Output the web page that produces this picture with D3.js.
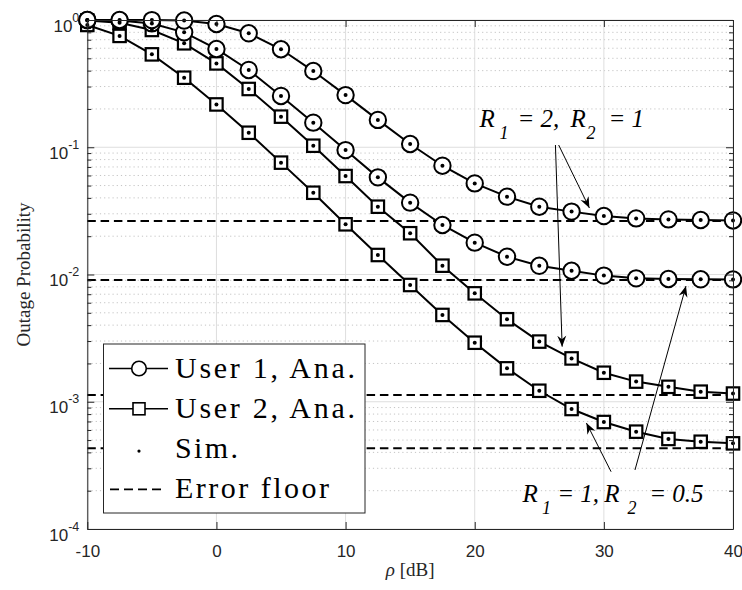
<!DOCTYPE html>
<html lang="en">
<head>
<meta charset="UTF-8">
<script src="https://d3js.org/d3.v7.min.js"></script>
<title>Outage probability</title>
<style>
  body { margin: 0; background: #fff; }
  svg { display: block; }
  .sans { font-family: "Liberation Sans", Arial, Helvetica, sans-serif; }
  .serif { font-family: "Liberation Serif", "Times New Roman", Times, "DejaVu Serif", serif; }
</style>
</head>
<body>
<div id="chart"></div>
<script>
// rho in dB
const snr = [-10, -7.5, -5, -2.5, 0, 2.5, 5, 7.5, 10, 12.5, 15, 17.5, 20, 22.5, 25, 27.5, 30, 32.5, 35, 37.5, 40];

// User 1, R1 = 2, R2 = 1
const user1High = [1.0, 1.0, 0.998, 0.99, 0.93, 0.786, 0.589, 0.397, 0.257, 0.164, 0.106, 0.0716, 0.052, 0.0409, 0.0341, 0.0312, 0.0288, 0.0276, 0.0271, 0.0268, 0.0266];
// User 1, R1 = 1, R2 = 0.5
const user1Low = [1.0, 0.99, 0.94, 0.80, 0.592, 0.405, 0.253, 0.156, 0.095, 0.058, 0.0367, 0.0245, 0.0178, 0.0138, 0.0117, 0.0107, 0.0098, 0.00933, 0.00922, 0.00917, 0.00915];
// User 2, R1 = 2, R2 = 1
const user2High = [0.99, 0.95, 0.835, 0.656, 0.456, 0.287, 0.174, 0.1028, 0.0594, 0.0341, 0.0211, 0.01173, 0.00711, 0.00445, 0.00297, 0.00219, 0.00169, 0.00144, 0.00131, 0.0012, 0.00116];
// User 2, R1 = 1, R2 = 0.5
const user2Low = [0.914, 0.75, 0.537, 0.352, 0.217, 0.130, 0.0757, 0.0439, 0.0248, 0.01423, 0.00827, 0.00481, 0.00291, 0.00183, 0.00122, 0.000877, 0.000693, 0.000582, 0.00051, 0.000485, 0.000471];

// simulation points sit on the analytical curves
const simU1High = user1High;
const simU1Low = user1Low;
const simU2High = user2High;
const simU2Low = user2Low;

// error floors (horizontal dashed lines)
const floors = [0.0263, 0.00905, 0.00113, 0.000432];

const xTicks = [-10, 0, 10, 20, 30, 40];
const yExponents = [-4, -3, -2, -1, 0];
const legendLabels = ["User 1, Ana.", "User 2, Ana.", "Sim.", "Error floor"];

const width = 742, height = 590;
const margin = { top: 20, right: 9, bottom: 61, left: 87.3 };
const axisColor = "#262626";

const svg = d3.select("#chart").append("svg")
  .attr("width", width)
  .attr("height", height);

const x = d3.scaleLinear().domain([-10, 40]).range([margin.left, width - margin.right]);
const y = d3.scaleLog().domain([1e-4, 1]).range([height - margin.bottom, margin.top]);

const yMajor = yExponents.map(e => Math.pow(10, e));
const yMinor = [];
yExponents.slice(0, -1).forEach(e => {
  for (let m = 2; m <= 9; m++) yMinor.push(m * Math.pow(10, e));
});

// arrow head
svg.append("defs").append("marker")
  .attr("id", "head")
  .attr("viewBox", "-11 -6 12 12")
  .attr("refX", 0).attr("refY", 0)
  .attr("markerWidth", 12).attr("markerHeight", 12)
  .attr("markerUnits", "userSpaceOnUse")
  .attr("orient", "auto")
  .append("path")
  .attr("d", "M0,0 L-11,-4.5 L-7.5,0 L-11,4.5 Z")
  .attr("fill", "#000");

// grid
const grid = svg.append("g");
grid.selectAll(".minor").data(yMinor).enter().append("line")
  .attr("x1", x(-10)).attr("x2", x(40))
  .attr("y1", d => y(d)).attr("y2", d => y(d))
  .attr("stroke", "#c4c4c4").attr("stroke-width", 1)
  .attr("stroke-dasharray", "1.2,3");
grid.selectAll(".majory").data(yMajor).enter().append("line")
  .attr("x1", x(-10)).attr("x2", x(40))
  .attr("y1", d => y(d)).attr("y2", d => y(d))
  .attr("stroke", "#dedede").attr("stroke-width", 1);
grid.selectAll(".majorx").data(xTicks).enter().append("line")
  .attr("x1", d => x(d)).attr("x2", d => x(d))
  .attr("y1", y(1e-4)).attr("y2", y(1))
  .attr("stroke", "#dedede").attr("stroke-width", 1);

// error floors
svg.append("g").selectAll("line").data(floors).enter().append("line")
  .attr("x1", x(-10)).attr("x2", x(40))
  .attr("y1", d => y(d)).attr("y2", d => y(d))
  .attr("stroke", "#000").attr("stroke-width", 2)
  .attr("stroke-dasharray", "8.5,4.8");

const line = d3.line().x((d, i) => x(snr[i])).y(d => y(d));

function drawCurve(values, shape) {
  const g = svg.append("g");
  g.append("path").datum(values)
    .attr("d", line)
    .attr("fill", "none").attr("stroke", "#000").attr("stroke-width", 2);
  if (shape === "circle") {
    g.selectAll("circle").data(values).enter().append("circle")
      .attr("cx", (d, i) => x(snr[i])).attr("cy", d => y(d))
      .attr("r", 8.2)
      .attr("fill", "#fff").attr("stroke", "#000").attr("stroke-width", 2);
  } else {
    const s = 12.4;
    g.selectAll("rect").data(values).enter().append("rect")
      .attr("x", (d, i) => x(snr[i]) - s / 2).attr("y", d => y(d) - s / 2)
      .attr("width", s).attr("height", s)
      .attr("fill", "#fff").attr("stroke", "#000").attr("stroke-width", 2.2);
  }
}

drawCurve(user2Low, "square");
drawCurve(user2High, "square");
drawCurve(user1Low, "circle");
drawCurve(user1High, "circle");

[simU1High, simU1Low, simU2High, simU2Low].forEach(vals => {
  svg.append("g").selectAll("circle").data(vals).enter().append("circle")
    .attr("cx", (d, i) => x(snr[i])).attr("cy", d => y(d))
    .attr("r", 2).attr("fill", "#000");
});

// axes
const axes = svg.append("g").attr("color", axisColor);

axes.append("g")
  .attr("transform", `translate(0,${y(1e-4)})`)
  .call(d3.axisBottom(x).tickValues(xTicks).tickSize(-7).tickSizeOuter(0)
    .tickPadding(16).tickFormat(d => String(d)))
  .call(g => g.selectAll("text")
    .attr("class", "sans")
    .attr("font-family", null)
    .style("font-size", "17px")
    .attr("fill", axisColor));

axes.append("g")
  .attr("transform", `translate(0,${y(1)})`)
  .call(d3.axisTop(x).tickValues(xTicks).tickSize(-7).tickSizeOuter(0).tickFormat(""));

axes.append("g")
  .attr("transform", `translate(${x(-10)},0)`)
  .call(d3.axisLeft(y).tickValues(yMajor).tickSize(-7).tickSizeOuter(0).tickFormat(""));
axes.append("g")
  .attr("transform", `translate(${x(-10)},0)`)
  .call(d3.axisLeft(y).tickValues(yMinor).tickSize(-4).tickSizeOuter(0).tickFormat(""))
  .call(g => g.select(".domain").remove());

axes.append("g")
  .attr("transform", `translate(${x(40)},0)`)
  .call(d3.axisRight(y).tickValues(yMajor).tickSize(-7).tickSizeOuter(0).tickFormat(""));
axes.append("g")
  .attr("transform", `translate(${x(40)},0)`)
  .call(d3.axisRight(y).tickValues(yMinor).tickSize(-4).tickSizeOuter(0).tickFormat(""))
  .call(g => g.select(".domain").remove());

// y tick labels as 10^k
const yLabels = svg.append("g").attr("class", "sans").attr("fill", axisColor);
yExponents.forEach(e => {
  const t = yLabels.append("text")
    .attr("x", x(-10) - 8)
    .attr("y", y(Math.pow(10, e)) + 11.5)
    .attr("text-anchor", "end")
    .style("font-size", "17px");
  t.append("tspan").text("10");
  t.append("tspan").attr("dy", -10).style("font-size", "12.5px").text(String(e));
});

// axis titles
svg.append("text")
  .attr("class", "serif")
  .attr("x", (x(-10) + x(40)) / 2)
  .attr("y", 576)
  .attr("text-anchor", "middle")
  .style("font-size", "19px")
  .attr("fill", axisColor)
  .call(t => {
    t.append("tspan").style("font-style", "italic").text("ρ");
    t.append("tspan").text(" [dB]");
  });

svg.append("text")
  .attr("class", "serif")
  .attr("transform", `translate(30,${(y(1) + y(1e-4)) / 2}) rotate(-90)`)
  .attr("text-anchor", "middle")
  .style("font-size", "19px")
  .attr("fill", axisColor)
  .text("Outage Probability");

// annotations (anchors in data units)
const noteHigh = { x: 20.37, y: 0.1442 };
const noteLow = { x: 23.7, y: 1.64e-4 };
const partsHigh = [["R", 0, false], ["1", 20, true], ["= 2,", 38, false], ["R", 91, false], ["2", 107, true], ["= 1", 129, false]];
const partsLow = [["R", 0, false], ["1", 19.4, true], ["= 1,", 34.7, false], ["R", 81.7, false], ["2", 105, true], ["= 0.5", 126.7, false]];

function drawNote(anchor, parts) {
  const g = svg.append("g").attr("class", "serif")
    .style("font-style", "italic")
    .attr("fill", "#000");
  parts.forEach(([txt, dx, sub]) => {
    g.append("text")
      .attr("x", x(anchor.x) + dx)
      .attr("y", y(anchor.y) + (sub ? 12 : 0))
      .style("font-size", sub ? "18px" : "25px")
      .text(txt);
  });
}
drawNote(noteHigh, partsHigh);
drawNote(noteLow, partsLow);

const arrows = [
  { x1: 26.25, y1: 0.1041, x2: 26.77, y2: 0.00271 },
  { x1: 26.5, y1: 0.1041, x2: 28.88, y2: 0.0333 },
  { x1: 30.56, y1: 2.82e-4, x2: 28.65, y2: 6.81e-4 },
  { x1: 32.41, y1: 2.91e-4, x2: 36.36, y2: 0.00812 }
];
svg.append("g").selectAll("line").data(arrows).enter().append("line")
  .attr("x1", d => x(d.x1)).attr("y1", d => y(d.y1))
  .attr("x2", d => x(d.x2)).attr("y2", d => y(d.y2))
  .attr("stroke", "#000").attr("stroke-width", 1)
  .attr("marker-end", "url(#head)");

// legend
const legend = svg.append("g");
const lgLeft = 103.5, lgTop = 344, lgRight = 365, lgBottom = 513;
legend.append("rect")
  .attr("x", lgLeft).attr("y", lgTop)
  .attr("width", lgRight - lgLeft).attr("height", lgBottom - lgTop)
  .attr("fill", "#fff").attr("stroke", axisColor).attr("stroke-width", 1);

const rowY = i => lgTop + 24.5 + i * 40.3;
const textLen = [180, 180, 63, 154];
const symX = 139;

legendLabels.forEach((lab, i) => {
  legend.append("text")
    .attr("class", "serif")
    .attr("x", 175).attr("y", rowY(i) + 9)
    .style("font-size", "30px")
    .attr("textLength", textLen[i])
    .attr("lengthAdjust", "spacing")
    .attr("fill", "#000")
    .text(lab);
});

[0, 1].forEach(i => {
  legend.append("line")
    .attr("x1", 109).attr("x2", 168)
    .attr("y1", rowY(i)).attr("y2", rowY(i))
    .attr("stroke", "#000").attr("stroke-width", 1.6);
});
legend.append("circle")
  .attr("cx", symX).attr("cy", rowY(0)).attr("r", 7.3)
  .attr("fill", "#fff").attr("stroke", "#000").attr("stroke-width", 1.6);
legend.append("rect")
  .attr("x", symX - 6).attr("y", rowY(1) - 6).attr("width", 12).attr("height", 12)
  .attr("fill", "#fff").attr("stroke", "#000").attr("stroke-width", 1.6);
legend.append("circle")
  .attr("cx", symX).attr("cy", rowY(2) + 2).attr("r", 1.6).attr("fill", "#000");
legend.append("line")
  .attr("x1", 110).attr("x2", 165)
  .attr("y1", rowY(3)).attr("y2", rowY(3))
  .attr("stroke", "#000").attr("stroke-width", 1.6)
  .attr("stroke-dasharray", "9,5");
</script>
</body>
</html>
